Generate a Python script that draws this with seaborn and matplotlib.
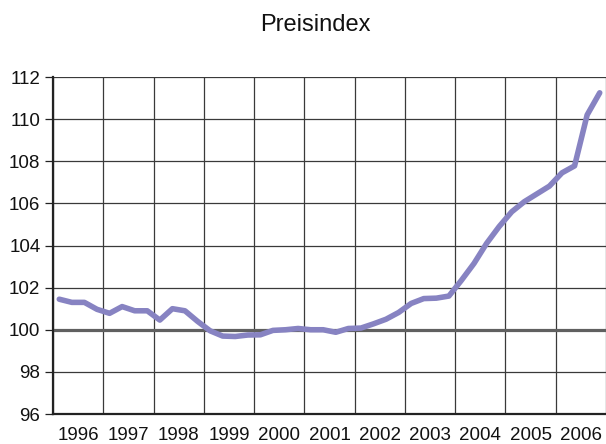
import numpy as np
import pandas as pd
import seaborn as sns
import matplotlib.pyplot as plt

years = list(range(1996, 2007))
quarters = [1, 2, 3, 4]
# quarterly price index values
index_values = [
    101.45, 101.3, 101.3, 100.97,   # 1996
    100.78, 101.1, 100.9, 100.9,    # 1997
    100.46, 101.0, 100.9, 100.4,    # 1998
    99.95, 99.7, 99.68, 99.75,      # 1999
    99.76, 99.97, 100.0, 100.06,    # 2000
    100.0, 100.0, 99.88, 100.06,    # 2001
    100.08, 100.28, 100.5, 100.82,  # 2002
    101.25, 101.48, 101.5, 101.6,   # 2003
    102.35, 103.15, 104.1, 104.9,   # 2004
    105.6, 106.08, 106.45, 106.82,  # 2005
    107.45, 107.78, 110.2, 111.25,  # 2006
]

df = pd.DataFrame({
    'year': np.repeat(years, 4),
    'quarter': quarters * len(years),
    'index': index_values,
})
df['t'] = df['year'] + (df['quarter'] - 0.5) / 4

sns.set_style('white')
plt.rcParams['font.family'] = ['Liberation Sans', 'DejaVu Sans']
plt.rcParams['text.color'] = '#111111'
plt.rcParams['xtick.color'] = '#111111'
plt.rcParams['ytick.color'] = '#111111'

fig = plt.figure(figsize=(6.06, 4.44), dpi=100)
ax = fig.add_axes([53 / 606, 1 - 414 / 444, 1 - 53 / 606, (414 - 77) / 444])

# grid
for y in range(96, 113, 2):
    if y == 100:
        continue
    ax.axhline(y, color='#3a3a3a', lw=0.9, zorder=1)
for x in range(1996, 2008):
    ax.axvline(x, color='#3a3a3a', lw=0.9, zorder=1)
ax.axhline(100, color='#606060', lw=2.3, zorder=2)

sns.lineplot(data=df, x='t', y='index', color='#8783c2', lw=4, ax=ax, zorder=3)

ax.set_xlim(1996, 2007)
ax.set_ylim(96, 112)
ax.set_yticks(range(96, 113, 2))
ax.set_xticks([y + 0.5 for y in years])
ax.set_xticklabels([str(y) for y in years])
ax.tick_params(axis='y', length=6, width=0.9, color='#222222', labelcolor='#111111',
               labelsize=13.5, pad=3, left=True)
ax.tick_params(axis='x', length=0, labelsize=13.5, labelcolor='#111111', pad=9)
ax.set_xlabel('')
ax.set_ylabel('')
for s in ['top', 'right']:
    ax.spines[s].set_visible(False)
ax.spines['left'].set_color('#222222')
ax.spines['left'].set_linewidth(1.6)
ax.spines['bottom'].set_color('#222222')
ax.spines['bottom'].set_linewidth(1.6)

fig.text(0.52, 1 - 31 / 444, 'Preisindex', ha='center', va='baseline', fontsize=17,
         color='#111111')

plt.savefig('out.png', dpi=100)
